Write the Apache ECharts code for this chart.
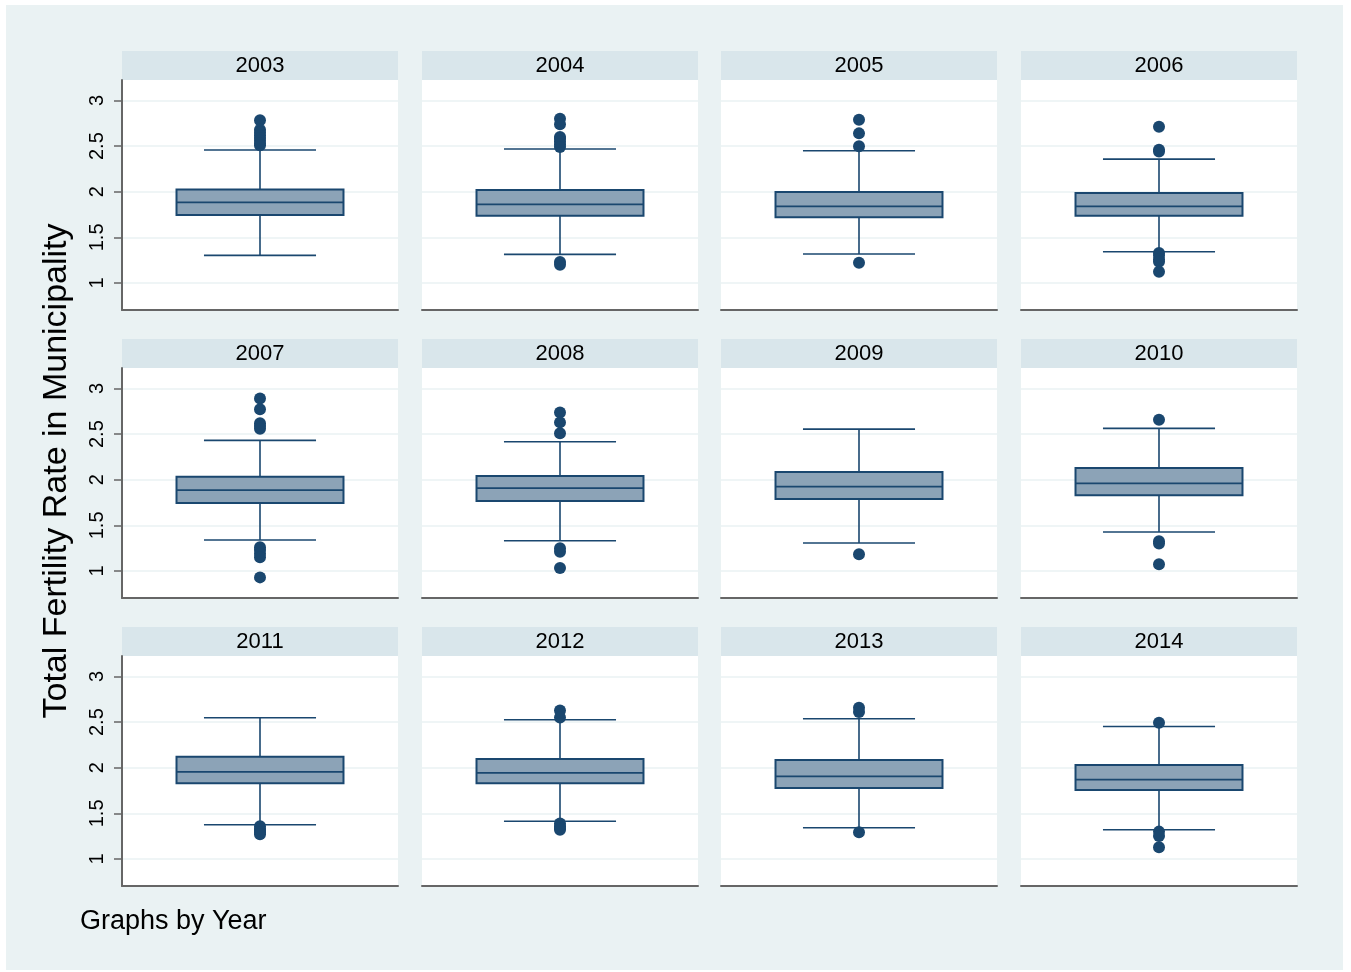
<!DOCTYPE html>
<html>
<head>
<meta charset="utf-8">
<script src="https://cdn.jsdelivr.net/npm/echarts@6/dist/echarts.min.js"></script>
<style>
  html, body { margin: 0; background: #fff; }
  #chart { width: 1351px; height: 972px; }
</style>
</head>
<body>
<div id="chart"></div>
<script>
// box plot summaries per year
const years = ['2003', '2004', '2005', '2006', '2007', '2008', '2009', '2010', '2011', '2012', '2013', '2014'];
const whiskerLow = [1.303, 1.314, 1.318, 1.343, 1.340, 1.332, 1.307, 1.427, 1.376, 1.413, 1.343, 1.321];
const q1 = [1.745, 1.737, 1.720, 1.737, 1.745, 1.767, 1.789, 1.829, 1.829, 1.829, 1.778, 1.756];
const median = [1.884, 1.862, 1.840, 1.840, 1.887, 1.909, 1.924, 1.960, 1.956, 1.945, 1.906, 1.869];
const q3 = [2.026, 2.019, 1.997, 1.986, 2.033, 2.040, 2.084, 2.128, 2.120, 2.095, 2.084, 2.030];
const whiskerHigh = [2.457, 2.468, 2.449, 2.358, 2.432, 2.416, 2.555, 2.563, 2.548, 2.526, 2.537, 2.453];
const outliers = [
  [2.785, 2.68, 2.65, 2.62, 2.59, 2.56, 2.53, 2.51],
  [2.80, 2.74, 2.60, 2.58, 2.55, 2.52, 2.49, 1.23, 1.20],
  [2.79, 2.64, 2.50, 1.222],
  [2.712, 2.46, 2.44, 1.33, 1.30, 1.26, 1.233, 1.124],
  [2.89, 2.774, 2.62, 2.59, 2.56, 1.26, 1.23, 1.19, 1.15, 0.93],
  [2.738, 2.629, 2.511, 1.25, 1.21, 1.033],
  [1.183],
  [2.657, 1.325, 1.30, 1.073],
  [1.36, 1.33, 1.31, 1.29, 1.27],
  [2.629, 2.55, 1.39, 1.36, 1.34, 1.32],
  [2.657, 2.61, 1.292],
  [2.493, 1.30, 1.252, 1.128]
];
const yTicks = [1, 1.5, 2, 2.5, 3];

const navy = '#1a476f';
const boxFill = '#8ca3b7';
const gridColor = '#eaf2f3';
const font = '"Liberation Sans", Arial, sans-serif';

// panel layout
const colLeft = [122, 422, 721, 1021];
const rowTop = [80, 368, 656];
const plotW = 276, plotH = 230, stripH = 29;

function renderBox(params, api) {
  const band = api.size([1, 0])[0];
  const bw = band * 0.605, cw = band * 0.406;
  const x = api.coord([0, api.value(3)])[0];
  const y = (d) => api.coord([0, api.value(d)])[1];
  const yLo = y(1), yQ1 = y(2), yMed = y(3), yQ3 = y(4), yHi = y(5);
  const line = { stroke: navy, lineWidth: 1.6 };
  return {
    type: 'group',
    children: [
      { type: 'line', shape: { x1: x, y1: yLo, x2: x, y2: yQ1 }, style: line },
      { type: 'line', shape: { x1: x, y1: yQ3, x2: x, y2: yHi }, style: line },
      { type: 'line', shape: { x1: x - cw / 2, y1: yLo, x2: x + cw / 2, y2: yLo }, style: line },
      { type: 'line', shape: { x1: x - cw / 2, y1: yHi, x2: x + cw / 2, y2: yHi }, style: line },
      { type: 'rect', shape: { x: x - bw / 2, y: yQ3, width: bw, height: yQ1 - yQ3 },
        style: { fill: boxFill, stroke: navy, lineWidth: 2 } },
      { type: 'line', shape: { x1: x - bw / 2, y1: yMed, x2: x + bw / 2, y2: yMed }, style: { stroke: navy, lineWidth: 1.8 } }
    ]
  };
}

const grids = [], xAxes = [], yAxes = [], series = [];
const graphics = [
  { type: 'rect', shape: { x: 6, y: 5, width: 1337, height: 965 }, style: { fill: gridColor }, z: -10 }
];

years.forEach((yr, i) => {
  const r = Math.floor(i / 4), c = i % 4;
  grids.push({
    left: colLeft[c], top: rowTop[r], width: plotW, height: plotH,
    show: true, backgroundColor: '#fff', borderWidth: 0
  });
  xAxes.push({
    gridIndex: i, type: 'category', data: [yr],
    axisLine: { show: true, lineStyle: { color: '#666', width: 2 } },
    axisTick: { show: false }, axisLabel: { show: false }, splitLine: { show: false }
  });
  yAxes.push({
    gridIndex: i, type: 'value', min: 0.704, max: 3.225,
    axisLine: { show: c === 0, lineStyle: { color: '#666', width: 2 } },
    axisTick: { show: c === 0, length: 8, customValues: yTicks, lineStyle: { color: '#666', width: 1.5 } },
    axisLabel: {
      show: c === 0, customValues: yTicks, rotate: 90, margin: 15,
      fontSize: 20, color: '#000', fontFamily: font
    },
    splitLine: { show: true, lineStyle: { color: gridColor, width: 1.5 } }
  });
  series.push({
    type: 'custom', xAxisIndex: i, yAxisIndex: i,
    renderItem: renderBox,
    encode: { x: 0, y: [1, 2, 3, 4, 5] },
    data: [[0, whiskerLow[i], q1[i], median[i], q3[i], whiskerHigh[i]]],
    silent: true
  });
  series.push({
    type: 'scatter', xAxisIndex: i, yAxisIndex: i,
    symbol: 'circle', symbolSize: 12,
    itemStyle: { color: navy, opacity: 1 },
    data: outliers[i].map((v) => [0, v]),
    silent: true
  });
  graphics.push({
    type: 'rect',
    shape: { x: colLeft[c], y: rowTop[r] - stripH, width: plotW, height: stripH },
    style: { fill: '#d9e6eb' }
  });
  graphics.push({
    type: 'text', x: colLeft[c] + plotW / 2, y: rowTop[r] - stripH / 2 + 0.5,
    style: { text: yr, fontSize: 22, fontFamily: font, fill: '#000', align: 'center', verticalAlign: 'middle' }
  });
});

graphics.push({
  type: 'text', x: 57, y: 471, rotation: Math.PI / 2,
  style: {
    text: 'Total Fertility Rate in Municipality', fontSize: 34, fontFamily: font,
    fill: '#000', align: 'center', verticalAlign: 'middle'
  }
});
graphics.push({
  type: 'text', x: 80, y: 922,
  style: { text: 'Graphs by Year', fontSize: 27, fontFamily: font, fill: '#000', align: 'left', verticalAlign: 'middle' }
});

const chart = echarts.init(document.getElementById('chart'), null, { renderer: 'canvas' });
chart.setOption({
  backgroundColor: '#fff',
  animation: false,
  grid: grids,
  xAxis: xAxes,
  yAxis: yAxes,
  graphic: graphics,
  series: series
});
</script>
</body>
</html>
